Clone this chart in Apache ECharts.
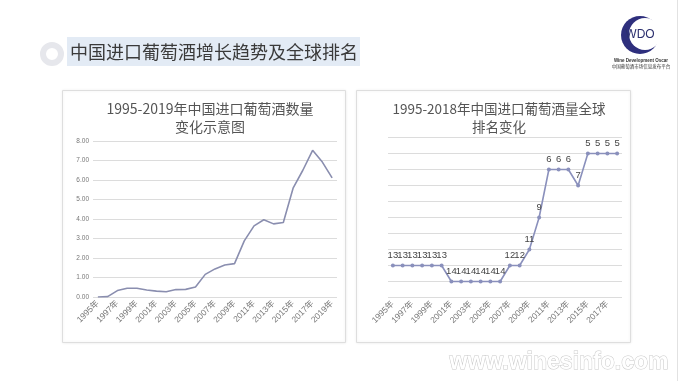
<!DOCTYPE html>
<html>
<head>
<meta charset="utf-8">
<script src="https://cdn.jsdelivr.net/npm/echarts@6/dist/echarts.min.js"></script>
<style>
html,body{margin:0;padding:0;background:#fff;}
#c{width:680px;height:381px;}
</style>
</head>
<body>
<div id="c"></div>
<script>
// ---- data ----
const volumeYears = ['1995年','1996年','1997年','1998年','1999年','2000年','2001年','2002年','2003年','2004年','2005年','2006年','2007年','2008年','2009年','2010年','2011年','2012年','2013年','2014年','2015年','2016年','2017年','2018年','2019年'];
const volumeValues = [0.00,0.02,0.33,0.45,0.45,0.36,0.30,0.27,0.38,0.39,0.51,1.16,1.44,1.64,1.71,2.88,3.65,3.96,3.75,3.82,5.58,6.50,7.52,6.92,6.11];
const volumeTicks = ['0.00','1.00','2.00','3.00','4.00','5.00','6.00','7.00','8.00'];

const rankYears = ['1995年','1996年','1997年','1998年','1999年','2000年','2001年','2002年','2003年','2004年','2005年','2006年','2007年','2008年','2009年','2010年','2011年','2012年','2013年','2014年','2015年','2016年','2017年','2018年'];
const rankLabels = [13,13,13,13,13,13,14,14,14,14,14,14,12,12,11,9,6,6,6,7,5,5,5,5];
// plotted height of each point (inverted scale)
const rankLevels = [12,12,12,12,12,12,13,13,13,13,13,13,12,12,11,9,6,6,6,7,5,5,5,5];

const FONT = '"Liberation Sans","Noto Sans CJK SC",sans-serif';
const CJK = '"Noto Sans CJK SC","Liberation Sans",sans-serif';

const chart = echarts.init(document.getElementById('c'), null, {renderer:'canvas'});

const xLabel = {
  interval: 1, rotate: 45, fontSize: 8.5, color: '#777', fontFamily: FONT, margin: 5
};

chart.setOption({
  animation: false,
  backgroundColor: '#fff',
  title: [
    {text: '1995-2019年中国进口葡萄酒数量\n变化示意图', left: 205, top: 95, textAlign: 'center',
     textStyle: {fontSize: 14, fontWeight: 'normal', color: '#555', fontFamily: CJK, lineHeight: 18}},
    {text: '1995-2018年中国进口葡萄酒量全球\n排名变化', left: 494, top: 95, textAlign: 'center',
     textStyle: {fontSize: 13.5, fontWeight: 'normal', color: '#555', fontFamily: CJK, lineHeight: 18}}
  ],
  grid: [
    {left: 93, right: 343, top: 141, bottom: 84},
    {left: 388, right: 58, top: 137.5, bottom: 83.5}
  ],
  xAxis: [
    {type: 'category', gridIndex: 0, data: volumeYears, boundaryGap: true,
     axisLine: {show: false}, axisTick: {show: false}, axisLabel: xLabel},
    {type: 'category', gridIndex: 1, data: rankYears, boundaryGap: true,
     axisLine: {show: false}, axisTick: {show: false}, axisLabel: xLabel}
  ],
  yAxis: [
    {type: 'value', gridIndex: 0, min: 0, max: 8, interval: 1,
     axisLine: {show: false}, axisTick: {show: false},
     axisLabel: {fontSize: 6.5, color: '#777', fontFamily: FONT, margin: 4,
                 formatter: v => volumeTicks[Math.round(v)]},
     splitLine: {lineStyle: {color: '#dcdcdc', width: 1}}},
    {type: 'value', gridIndex: 1, min: 4, max: 14, interval: 1, inverse: true,
     axisLine: {show: false}, axisTick: {show: false}, axisLabel: {show: false},
     splitLine: {lineStyle: {color: '#dcdcdc', width: 1}}}
  ],
  series: [
    {type: 'line', xAxisIndex: 0, yAxisIndex: 0, data: volumeValues,
     showSymbol: false, symbol: 'none',
     lineStyle: {color: '#8a8eaf', width: 1.6}},
    {type: 'line', xAxisIndex: 1, yAxisIndex: 1, data: rankLevels,
     symbol: 'circle', symbolSize: 4, showSymbol: true,
     itemStyle: {color: '#8a90bc'},
     lineStyle: {color: '#8a90bc', width: 1.6},
     label: {show: true, position: 'top', distance: 3, fontSize: 9.5, color: '#444', fontFamily: FONT,
             formatter: p => String(rankLabels[p.dataIndex])}}
  ],
  graphic: [
    // panels
    {type: 'rect', z: -10, shape: {x: 62.5, y: 90.5, width: 283, height: 252},
     style: {fill: '#fff', stroke: '#dedede', lineWidth: 1, shadowBlur: 3, shadowColor: 'rgba(0,0,0,0.08)'}},
    {type: 'rect', z: -10, shape: {x: 356.5, y: 90.5, width: 274, height: 252},
     style: {fill: '#fff', stroke: '#dedede', lineWidth: 1, shadowBlur: 3, shadowColor: 'rgba(0,0,0,0.08)'}},
    // slide edge
    {type: 'line', z: -10, shape: {x1: 677.5, y1: 0, x2: 677.5, y2: 381}, style: {stroke: '#e2e2e2', lineWidth: 1}},
    // header
    {type: 'circle', shape: {cx: 52, cy: 54, r: 9}, style: {fill: 'none', stroke: '#e6e7ec', lineWidth: 6}},
    {type: 'rect', shape: {x: 67, y: 37, width: 293, height: 29}, style: {fill: '#e3ebf5'}},
    {type: 'text', x: 70, y: 52, style: {text: '中国进口葡萄酒增长趋势及全球排名', fontSize: 18, fill: '#3a3a3a',
      fontFamily: CJK, verticalAlign: 'middle', align: 'left'}},
    // logo
    {type: 'circle', shape: {cx: 640, cy: 35, r: 19}, style: {fill: '#2e2f7d'}},
    {type: 'circle', shape: {cx: 645, cy: 34, r: 16}, style: {fill: '#fff'}},
    {type: 'text', x: 640, y: 35, style: {text: 'WDO', fontSize: 12, fill: '#2b2f6e', fontFamily: FONT,
      align: 'center', verticalAlign: 'middle'}},
    {type: 'text', x: 641, y: 61, style: {text: 'Wine Development Oscar', fontSize: 4.5, fontWeight: 'bold',
      fill: '#333', fontFamily: FONT, align: 'center', verticalAlign: 'middle'}},
    {type: 'text', x: 641, y: 66, style: {text: '中国葡萄酒市场信息发布平台', fontSize: 4.5,
      fill: '#333', fontFamily: CJK, align: 'center', verticalAlign: 'middle'}},
    // watermark
    {type: 'text', x: 559, y: 363, style: {text: 'www.winesinfo.com', fontSize: 23, fontWeight: 'bold',
      fill: '#fff', stroke: '#c9c9c9', lineWidth: 1, fontFamily: FONT, align: 'center', verticalAlign: 'middle'}}
  ]
});
</script>
</body>
</html>
